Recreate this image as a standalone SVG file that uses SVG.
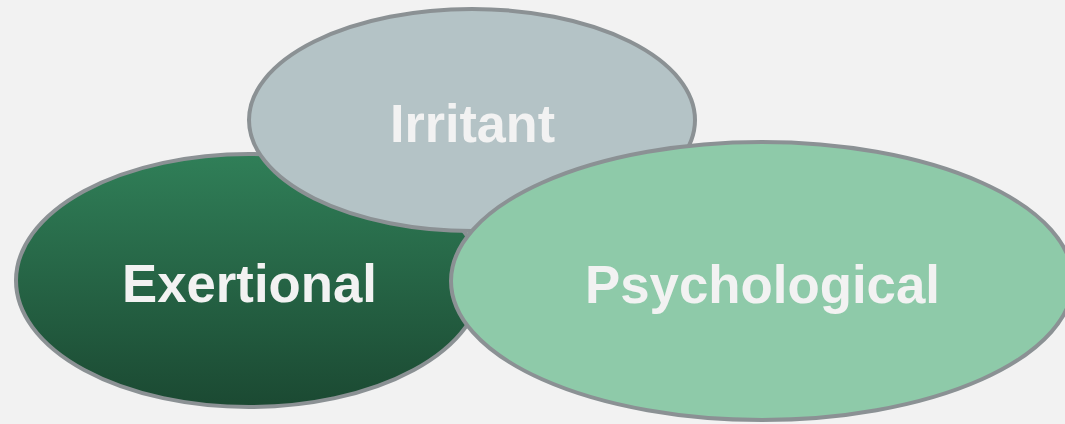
<svg xmlns="http://www.w3.org/2000/svg" width="1065" height="424" viewBox="0 0 1065 424">
<style>
.shape{stroke:#8b9194;stroke-width:4}
.lbl{font-family:"Liberation Sans",Arial,sans-serif;font-weight:bold;font-size:54px;fill:#f2f2f2;text-anchor:middle}
</style>
<defs>
<linearGradient id="gEx" x1="0" y1="0" x2="0" y2="1">
<stop offset="0" stop-color="#307f58"/>
<stop offset="1" stop-color="#1b4932"/>
</linearGradient>
</defs>
<rect width="1065" height="424" fill="#f2f2f2"/>
<g id="exertional">
<ellipse class="shape" cx="249" cy="280.5" rx="233" ry="126.5" fill="url(#gEx)"/>
<text class="lbl" x="249.5" y="302" textLength="255" lengthAdjust="spacingAndGlyphs">Exertional</text>
</g>
<g id="irritant">
<ellipse class="shape" cx="472" cy="120" rx="223" ry="111" fill="#b4c3c6"/>
<text class="lbl" x="472.5" y="142" textLength="165" lengthAdjust="spacingAndGlyphs">Irritant</text>
</g>
<g id="psychological">
<ellipse class="shape" cx="762" cy="281" rx="311" ry="139" fill="#8ecaa9"/>
<text class="lbl" x="762.5" y="303" textLength="355" lengthAdjust="spacingAndGlyphs">Psychological</text>
</g>
<g id="connectors"/>
</svg>
